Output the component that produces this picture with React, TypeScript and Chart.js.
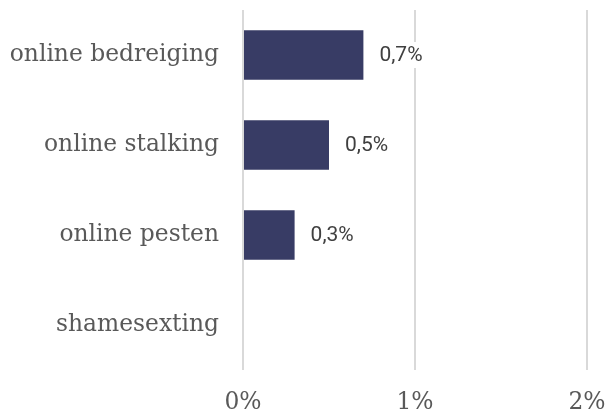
import React, { useEffect, useRef } from "react";
import { Chart, registerables } from "chart.js";

Chart.register(...registerables);

const categories = ["online bedreiging", "online stalking", "online pesten", "shamesexting"];
const values = [0.7, 0.5, 0.3, null];
const valueLabels = ["0,7%", "0,5%", "0,3%", ""];
const xTicks = [0, 1, 2];

const dataLabelPlugin = {
  id: "dataLabels",
  afterDatasetsDraw(chart: any) {
    const ctx = chart.ctx;
    const meta = chart.getDatasetMeta(0);
    ctx.save();
    ctx.font = "21px Roboto";
    ctx.textBaseline = "middle";
    ctx.textAlign = "left";
    meta.data.forEach((bar: any, i: number) => {
      const txt = valueLabels[i];
      if (!txt || values[i] == null) return;
      const x = bar.x + 16;
      const y = bar.y;
      const w = ctx.measureText(txt).width;
      ctx.fillStyle = "#ffffff";
      ctx.fillRect(x - 4, y - 13, w + 8, 26);
      ctx.fillStyle = "#404040";
      ctx.fillText(txt, x, y + 1);
    });
    ctx.restore();
  },
};

export default function App() {
  const ref = useRef<HTMLCanvasElement>(null);
  useEffect(() => {
    document.body.style.margin = "0";
    const chart = new Chart(ref.current!, {
      type: "bar",
      data: {
        labels: categories,
        datasets: [
          {
            data: values as any,
            backgroundColor: "#383c65",
            borderWidth: 0,
            categoryPercentage: 1,
            barPercentage: 0.55,
          },
        ],
      },
      options: {
        indexAxis: "y",
        animation: false,
        responsive: false,
        layout: { padding: { top: 10, right: 19, bottom: 0, left: 0 } },
        plugins: { legend: { display: false }, tooltip: { enabled: false } },
        scales: {
          x: {
            min: 0,
            max: 2,
            afterBuildTicks: (scale: any) => {
              scale.ticks = xTicks.map((v) => ({ value: v }));
            },
            afterFit: (scale: any) => {
              scale.height = 44;
              scale.paddingLeft = 0;
              scale.paddingRight = 0;
            },
            ticks: {
              callback: (v: any) => v + "%",
              font: { family: "DejaVu Serif", size: 23.4 },
              color: "#595959",
              padding: 19,
              maxRotation: 0,
            },
            grid: { color: "#d9d9d9", lineWidth: 2, drawTicks: false },
            border: { display: false },
          },
          y: {
            afterFit: (scale: any) => {
              scale.width = 243;
              scale.paddingTop = 0;
              scale.paddingBottom = 0;
            },
            ticks: {
              font: { family: "DejaVu Serif", size: 23.4 },
              color: "#595959",
              padding: 24,
            },
            grid: { display: false, drawTicks: false },
            border: { display: false },
          },
        },
      },
      plugins: [dataLabelPlugin],
    });
    return () => chart.destroy();
  }, []);
  return (
    <div style={{ width: 606, height: 414 }}>
      <canvas ref={ref} width={606} height={414} />
    </div>
  );
}
